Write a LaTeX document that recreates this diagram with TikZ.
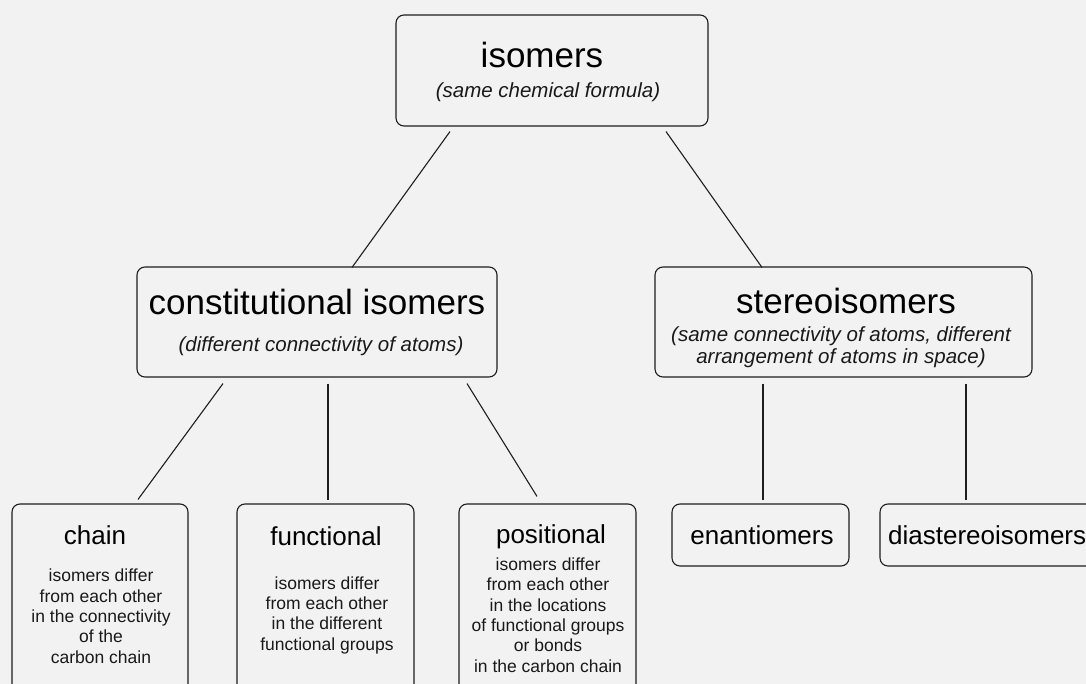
\documentclass[tikz,border=0pt]{standalone}
\usepackage{fontspec}
\setmainfont{Liberation Sans}
\usetikzlibrary{calc}
\definecolor{bg}{HTML}{F2F2F2}
\definecolor{ln}{HTML}{1E1E1E}
\tikzset{
  box/.style={draw=ln, line width=1.1pt, rounded corners=8pt, inner sep=0pt, fill=bg},
  conn/.style={draw=ln, line width=1.1pt},
  bigtitle/.style={anchor=base, inner sep=0pt, text=black, font=\fontsize{35}{42}\selectfont},
  midtitle/.style={anchor=base, inner sep=0pt, text=black, font=\fontsize{26}{31}\selectfont},
  subtext/.style={anchor=base, inner sep=0pt, text=black!90, align=center, font=\fontsize{20.5}{22}\selectfont\itshape},
  bodytext/.style={anchor=base, inner sep=0pt, text=black!90, align=center, font=\fontsize{17.5}{20.3}\selectfont}
}
\begin{document}
\begin{tikzpicture}[x=1pt, y=-1pt]
  \fill[bg] (0,0) rectangle (1086,684);
  \useasboundingbox (0,0) rectangle (1086,684);
  \clip (0,0) rectangle (1086,684);

  % boxes
  \node[box, minimum width=312pt, minimum height=111pt] (iso) at (552,70.5) {};
  \node[box, minimum width=360pt, minimum height=110pt] (con) at (317,322) {};
  \node[box, minimum width=377pt, minimum height=110pt] (ste) at (843.5,322) {};
  \node[box, minimum width=176pt, minimum height=196pt] (cha) at (100,602) {};
  \node[box, minimum width=177pt, minimum height=196pt] (fun) at (325.5,602) {};
  \node[box, minimum width=177pt, minimum height=196pt] (pos) at (547.5,602) {};
  \node[box, minimum width=177pt, minimum height=62pt] (ena) at (760.5,535) {};
  \node[box, minimum width=220pt, minimum height=62pt] (dia) at (990,535) {};

  % texts (multi-line nodes: base = baseline of last line)
  \node[bigtitle] (isoT) at (542,68) {isomers};
  \node[subtext] (isoS) at (548,98) {(same chemical formula)};
  \node[bigtitle] (conT) at (317,315) {constitutional isomers};
  \node[subtext] (conS) at (321,352) {(different connectivity of atoms)};
  \node[bigtitle] (steT) at (846,314) {stereoisomers};
  \node[subtext] (steS) at (841,363) {(same connectivity of atoms, different\\arrangement of atoms in space)};
  \node[midtitle] (chaT) at (95,544) {chain};
  \node[bodytext] (chaB) at (101,663) {isomers differ\\from each other\\in the connectivity\\of the\\carbon chain};
  \node[midtitle] (funT) at (326,545) {functional};
  \node[bodytext] (funB) at (327,650) {isomers differ\\from each other\\in the different\\functional groups};
  \node[midtitle] (posT) at (551,543) {positional};
  \node[bodytext] (posB) at (548,672) {isomers differ\\from each other\\in the locations\\of functional groups\\or bonds\\in the carbon chain};
  \node[midtitle] (enaT) at (762,544) {enantiomers};
  \node[midtitle, anchor=base west] (diaT) at (888,544) {diastereoisomers};

  % connector end points
  \coordinate (a1) at ($(iso.south)+(-102,5)$);
  \coordinate (b1) at ($(con.north)+(35,1)$);
  \coordinate (a2) at ($(iso.south)+(114,5)$);
  \coordinate (b2) at ($(ste.north)+(-81.5,1)$);
  \coordinate (a3) at ($(con.south)+(-94,6)$);
  \coordinate (b3) at ($(cha.north)+(38,-4)$);
  \coordinate (a4) at ($(con.south)+(11,6)$);
  \coordinate (b4) at ($(fun.north)+(2.5,-3)$);
  \coordinate (a5) at ($(con.south)+(150,6)$);
  \coordinate (b5) at ($(pos.north)+(-10.5,-7)$);
  \coordinate (a6) at ($(ste.south)+(-80.5,6)$);
  \coordinate (b6) at ($(ena.north)+(2.5,-3)$);
  \coordinate (a7) at ($(ste.south)+(122.5,6)$);
  \coordinate (b7) at ($(dia.north)+(-24,-3)$);

  \draw[conn] (a1) -- (b1);
  \draw[conn] (a2) -- (b2);
  \draw[conn] (a3) -- (b3);
  \draw[conn] (a4) -- (b4);
  \draw[conn] (a5) -- (b5);
  \draw[conn] (a6) -- (b6);
  \draw[conn] (a7) -- (b7);
\end{tikzpicture}
\end{document}
